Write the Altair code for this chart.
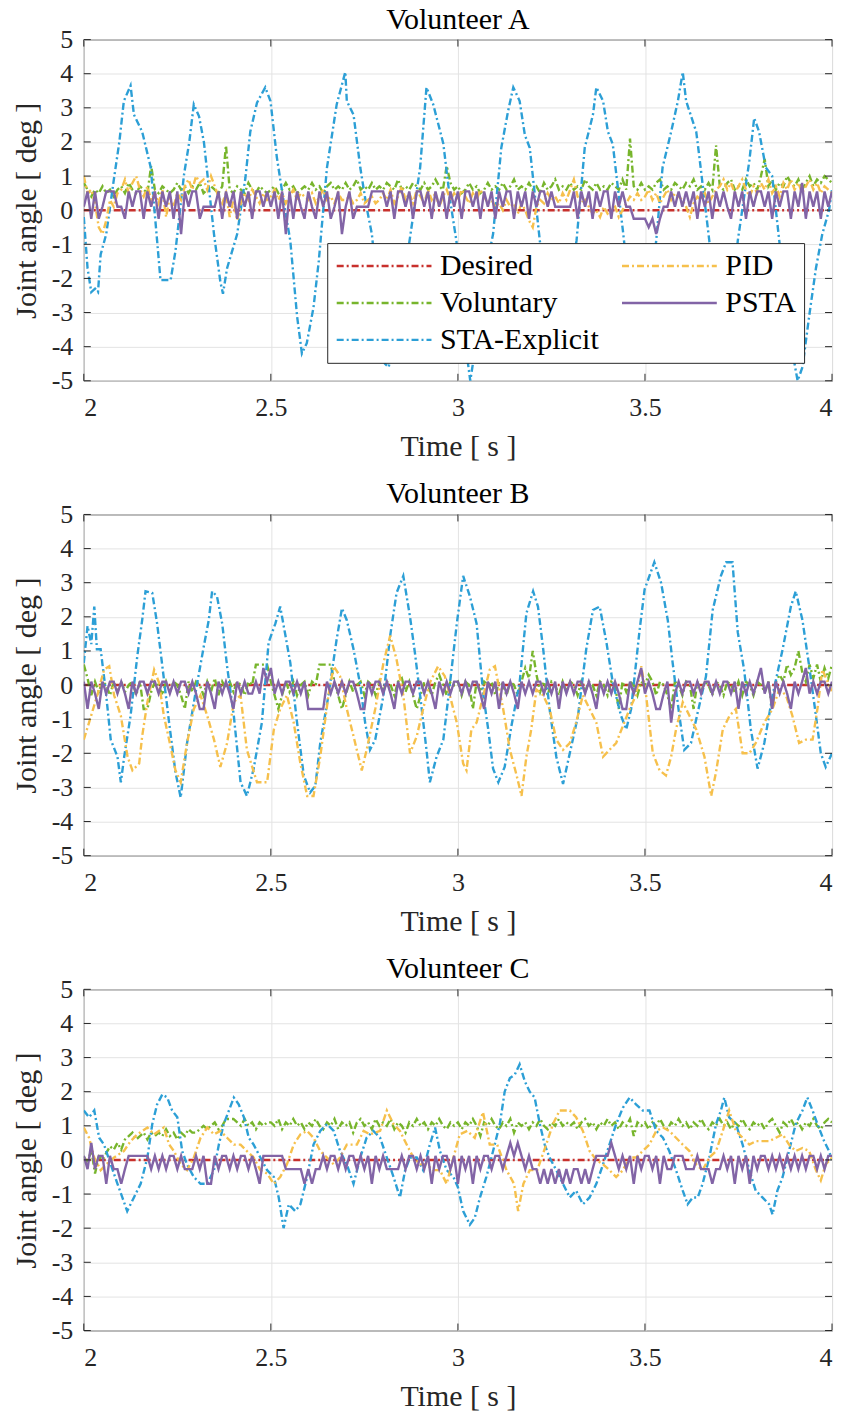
import altair as alt
import pandas as pd

FONT = "Liberation Serif"
W, H = 750, 342

# ---------------- axes / legend vocab ----------------
X_TICKS = [2, 2.5, 3, 3.5, 4]
Y_TICKS = [-5, -4, -3, -2, -1, 0, 1, 2, 3, 4, 5]
LEGEND_ORDER = ["Desired", "Voluntary", "STA-Explicit", "PID", "PSTA"]
COLORS = ["#C8302C", "#77B52C", "#2C9FD6", "#F6C04C", "#8264A6"]
DASHES = [[7, 3, 2, 3], [7, 3, 2, 3], [7, 3, 2, 3], [7, 3, 2, 3], [1, 0]]
DRAW_ORDER = ["Desired", "Voluntary", "STA-Explicit", "PID", "PSTA"]

# sample times of the uniformly read series (0.01 s)
T_GRID = [round(2.0 + 0.01 * i, 2) for i in range(201)]

# ---------------- Desired ----------------
desired_t = [2.0, 4.0]
desired_v = [0.0, 0.0]

# ---------------- Volunteer A ----------------
a_sta_t = [2.000, 2.010, 2.020, 2.030, 2.038, 2.045, 2.060, 2.081, 2.095, 2.107,
           2.125, 2.134, 2.156, 2.179, 2.196, 2.205, 2.232, 2.245, 2.268, 2.282,
           2.294, 2.308, 2.321, 2.348, 2.365, 2.372, 2.383, 2.410, 2.432, 2.445,
           2.463, 2.485, 2.499, 2.516, 2.534, 2.552, 2.570, 2.583, 2.596, 2.614,
           2.628, 2.650, 2.676, 2.699, 2.703, 2.721, 2.739, 2.756, 2.770, 2.788,
           2.805, 2.815, 2.835, 2.868, 2.899, 2.916, 2.934, 2.961, 2.979, 2.996,
           3.015, 3.033, 3.050, 3.070, 3.094, 3.116, 3.134, 3.148, 3.165, 3.179,
           3.192, 3.219, 3.240, 3.262, 3.290, 3.317, 3.339, 3.361, 3.370, 3.388,
           3.401, 3.414, 3.441, 3.465, 3.490, 3.512, 3.530, 3.547, 3.570, 3.588,
           3.601, 3.610, 3.637, 3.645, 3.672, 3.695, 3.715, 3.735, 3.748, 3.779,
           3.792, 3.805, 3.823, 3.840, 3.859, 3.868, 3.885, 3.908, 3.921, 3.939,
           3.957, 3.974, 3.992, 4.000]
a_sta_v = [-0.2, -1.7, -2.4, -2.3, -2.4, -1.3, -0.7, 0.95, 2.0, 3.2,
           3.65, 2.8, 2.3, 1.25, -0.9, -2.05, -2.05, -1.2, 1.05, 2.0,
           3.1, 2.75, 2.0, -0.7, -2.1, -2.45, -1.7, -0.7, 0.95, 2.3,
           3.15, 3.6, 3.2, 1.55, 0.27, -0.9, -3.1, -4.2, -3.9, -2.85,
           -1.5, 1.25, 3.1, 4.05, 3.2, 2.8, 1.25, 0.08, -0.7, -2.65,
           -4.5, -4.6, -3.5, -1.1, 1.25, 3.6, 3.1, 1.95, 0.3, -0.9,
           -3.5, -5.0, -3.8, -2.0, -0.7, 1.83, 2.9, 3.6, 3.2, 2.2,
           1.83, -0.9, -2.8, -3.8, -2.5, -0.9, 1.83, 2.8, 3.6, 3.2,
           2.3, 1.93, -0.6, -3.0, -3.8, -2.5, -0.9, 1.25, 2.3, 3.2,
           4.05, 3.2, 2.3, 1.6, -0.9, -3.0, -3.7, -2.5, -0.9, 1.45,
           2.7, 2.3, 1.25, 1.0, -0.9, -1.7, -3.6, -5.0, -4.6, -3.1,
           -1.7, -0.7, 0.0, 0.6]

a_vol = [0.8, 0.6, 0.4, 0.6, 0.5, 0.7, 0.5, 0.6, 0.4, 0.6,
         0.7, 0.5, 0.8, 0.6, 0.5, 0.7, 0.6, 0.5, 1.3, 0.6,
         0.5, 0.7, 0.6, 0.5, 0.6, 0.8, 0.6, 0.7, 0.5, 0.7,
         0.6, 0.8, 0.5, 0.6, 0.7, 0.6, 0.5, 0.7, 1.9, 0.6,
         0.5, 0.7, 0.6, 0.5, 0.8, 0.6, 0.5, 0.7, 0.6, 0.5,
         0.6, 0.7, 0.5, 0.6, 0.8, 0.6, 0.7, 0.5, 0.6, 0.7,
         0.6, 0.8, 0.6, 0.7, 0.5, 0.7, 0.8, 0.6, 0.7, 0.6,
         0.8, 0.6, 0.7, 0.9, 0.6, 0.7, 0.6, 0.8, 0.6, 0.7,
         0.6, 0.8, 0.7, 0.6, 0.9, 0.6, 0.7, 0.6, 0.8, 0.7,
         0.6, 0.8, 0.6, 0.7, 0.9, 0.7, 0.6, 1.3, 0.8, 0.6,
         0.7, 0.5, 0.6, 0.8, 0.6, 0.7, 0.5, 0.6, 0.8, 0.6,
         0.7, 0.6, 0.8, 0.6, 0.7, 0.9, 0.6, 0.7, 0.6, 0.8,
         0.6, 0.7, 0.5, 0.8, 0.6, 0.7, 0.9, 0.6, 0.7, 0.6,
         0.8, 0.6, 0.7, 0.6, 0.9, 0.7, 0.6, 0.8, 0.6, 0.7,
         0.6, 0.8, 0.7, 0.6, 0.9, 0.6, 2.1, 0.7, 0.6, 0.8,
         0.6, 0.7, 0.6, 0.8, 0.9, 0.6, 0.7, 0.6, 0.8, 0.7,
         0.6, 0.8, 0.7, 0.9, 0.6, 0.7, 0.6, 0.8, 0.6, 1.9,
         0.7, 0.6, 0.8, 0.9, 0.6, 0.7, 0.6, 0.9, 0.7, 0.8,
         0.6, 1.0, 1.5, 0.7, 0.9, 0.6, 0.8, 0.7, 1.0, 0.8,
         0.7, 0.9, 0.6, 0.8, 1.0, 0.7, 0.9, 0.8, 1.0, 0.9,
         0.8]

a_pid = [1.0, 0.5, 0.6, 0.2, -0.5, -0.7, -0.3, 0.3, 0.1, 0.5,
         0.6, 0.9, 0.5, 0.8, 1.0, 0.6, 0.4, 0.7, 0.3, 0.5,
         0.2, 0.6, -0.2, 0.4, 0.1, 0.5, 0.3, 0.7, 0.9, 0.6,
         1.0, 0.8, 0.9, 0.6, 1.0, 0.7, 0.4, 0.2, 0.5, -0.2,
         0.3, -0.3, 0.2, 0.5, 0.3, 0.6, 0.4, 0.2, 0.5, 0.3,
         0.4, 0.6, 0.3, 0.5, 0.2, 0.4, 0.6, 0.3, 0.5, 0.4,
         0.3, 0.5, 0.2, 0.4, 0.6, 0.3, 0.4, 0.2, 0.5, 0.3,
         0.3, 0.4, 0.2, 0.3, 0.5, 0.2, 0.3, 0.4, 0.2, 0.3,
         0.5, 0.3, 0.6, 0.2, 0.4, 0.7, 0.3, 0.5, 0.2, 0.6,
         0.4, 0.2, 0.6, 0.3, 0.5, 0.1, 0.4, 0.6, 0.3, 0.5,
         0.3, 0.6, 0.4, 0.2, 0.5, 0.3, 0.6, 0.4, 0.2, 0.3,
         0.1, 0.2, 0.0, 0.3, 0.1, 0.2, -0.1, 0.2, 0.0, -0.3,
         -0.5, 0.1, 0.3, 0.2, 0.5, 0.3, 0.4, 0.2, 0.5, 0.3,
         0.6, 0.9, 0.4, 0.2, 0.3, 0.1, -0.1, 0.0, -0.2, 0.1,
         -0.1, 0.0, 0.1, -0.2, 0.0, 0.2, 0.4, 0.3, 0.5, 0.3,
         0.4, 0.6, 0.3, 0.5, 0.2, 0.4, 0.6, 0.3, 0.5, 0.4,
         0.3, 0.1, -0.2, 0.2, 0.4, 0.3, 0.5, 0.2, 0.4, 0.6,
         0.7, 0.9, 0.6, 0.8, 0.5, 0.7, 0.9, 0.6, 0.4, 0.7,
         0.5, 0.8, 0.6, 0.9, 0.5, 0.7, 0.4, 0.8, 0.6, 0.9,
         0.6, 0.8, 0.5, 0.7, 0.9, 0.6, 0.8, 0.5, 0.7, 0.6,
         0.5]

a_psta = [0.1, 0.55, -0.25, 0.55, -0.25, 0.1, 0.55, 0.55, 0.55, 0.1,
          0.1, -0.25, 0.55, 0.1, 0.55, 0.55, -0.25, 0.55, 0.1, 0.55,
          -0.25, 0.55, 0.1, 0.55, -0.25, 0.55, -0.7, 0.55, 0.1, 0.55,
          0.55, -0.25, 0.1, 0.1, 0.1, 0.1, 0.55, -0.25, 0.55, 0.1,
          0.55, -0.25, 0.55, 0.1, 0.55, -0.25, 0.55, 0.55, 0.1, 0.55,
          0.1, 0.55, -0.25, 0.55, -0.7, 0.55, -0.25, 0.55, 0.1, -0.25,
          0.55, 0.1, -0.25, 0.55, 0.1, 0.55, -0.25, 0.1, 0.55, -0.7,
          0.1, 0.55, -0.25, 0.1, 0.1, 0.1, 0.1, 0.55, 0.55, 0.55,
          0.55, 0.1, 0.55, -0.25, 0.55, 0.55, 0.1, 0.55, -0.25, 0.55,
          0.55, 0.1, 0.55, -0.25, 0.55, 0.1, 0.55, -0.25, 0.55, 0.1,
          0.55, -0.25, 0.55, 0.55, 0.1, 0.55, -0.25, 0.55, 0.1, 0.55,
          -0.25, 0.55, 0.1, 0.55, 0.55, -0.25, 0.55, 0.1, 0.55, -0.25,
          0.55, 0.1, 0.55, 0.55, 0.1, 0.55, 0.1, 0.1, 0.1, 0.1,
          0.1, 0.55, -0.25, 0.55, 0.1, 0.55, -0.25, 0.55, 0.1, 0.55,
          0.55, -0.25, 0.55, 0.1, 0.55, 0.1, 0.1, -0.25, -0.25, -0.25,
          -0.25, -0.5, -0.25, -0.7, -0.25, 0.1, 0.1, 0.55, 0.1, 0.55,
          0.1, 0.55, 0.1, 0.55, -0.25, 0.55, 0.1, 0.55, -0.25, 0.55,
          0.1, 0.55, 0.1, -0.25, 0.55, 0.1, 0.55, -0.25, 0.55, 0.1,
          0.55, 0.55, 0.1, 0.55, -0.25, 0.55, 0.1, 0.55, 0.55, -0.25,
          0.55, 0.1, 0.8, -0.25, 0.55, 0.1, 0.55, -0.25, 0.55, 0.1,
          0.55]

# ---------------- Volunteer B ----------------
b_sta_t = [2.000, 2.010, 2.020, 2.028, 2.035, 2.045, 2.059, 2.072, 2.090, 2.099,
           2.108, 2.125, 2.143, 2.156, 2.165, 2.183, 2.196, 2.210, 2.228, 2.245,
           2.259, 2.276, 2.299, 2.321, 2.334, 2.343, 2.356, 2.370, 2.383, 2.401,
           2.419, 2.436, 2.454, 2.476, 2.494, 2.512, 2.525, 2.539, 2.552, 2.570,
           2.588, 2.605, 2.619, 2.632, 2.654, 2.676, 2.690, 2.703, 2.721, 2.739,
           2.752, 2.765, 2.779, 2.801, 2.819, 2.836, 2.854, 2.872, 2.885, 2.899,
           2.916, 2.925, 2.943, 2.961, 2.979, 2.997, 3.014, 3.032, 3.050, 3.068,
           3.081, 3.094, 3.108, 3.125, 3.143, 3.165, 3.183, 3.201, 3.214, 3.228,
           3.245, 3.263, 3.281, 3.299, 3.321, 3.343, 3.361, 3.379, 3.397, 3.414,
           3.436, 3.450, 3.463, 3.485, 3.499, 3.512, 3.525, 3.543, 3.561, 3.574,
           3.592, 3.605, 3.623, 3.641, 3.663, 3.681, 3.703, 3.717, 3.734, 3.748,
           3.765, 3.783, 3.801, 3.819, 3.841, 3.868, 3.890, 3.903, 3.921, 3.939,
           3.957, 3.970, 3.983, 4.000]
b_sta_v = [0.65, 1.73, 1.2, 2.3, 1.05, 1.05, -0.2, -1.6, -2.1, -2.85,
           -2.1, -0.9, 0.85, 1.9, 2.75, 2.7, 1.8, 0.55, -1.1, -2.55,
           -3.3, -1.7, -0.2, 1.15, 1.9, 2.75, 2.6, 1.8, 0.55, -0.9,
           -2.85, -3.25, -2.45, -1.1, 1.25, 1.8, 2.3, 1.45, 0.65, -1.1,
           -2.65, -3.15, -2.95, -1.7, -0.3, 1.35, 2.25, 1.9, 1.05, 0.0,
           -1.1, -1.9, -1.6, -0.3, 1.45, 2.7, 3.2, 2.0, 0.95, -0.3,
           -1.9, -2.85, -2.1, -1.6, 0.07, 1.8, 3.2, 2.6, 1.8, -0.3,
           -1.3, -2.45, -2.85, -2.4, -1.2, 0.07, 2.1, 2.75, 2.3, 1.05,
           -0.7, -2.1, -2.9, -2.0, -0.9, 1.05, 2.2, 2.3, 1.25, 0.07,
           -0.9, -1.3, -0.7, 1.55, 2.8, 3.2, 3.6, 3.0, 1.9, 0.65,
           -0.9, -1.9, -1.7, -0.8, 0.25, 2.2, 3.2, 3.6, 3.6, 1.55,
           0.45, -1.3, -2.45, -1.7, -0.3, 1.05, 2.3, 2.75, 1.9, 0.55,
           -0.9, -2.0, -2.4, -2.0]

b_pid_t = [2.000, 2.014, 2.036, 2.054, 2.068, 2.081, 2.099, 2.117, 2.130, 2.148,
           2.156, 2.170, 2.188, 2.201, 2.214, 2.228, 2.245, 2.259, 2.276, 2.294,
           2.312, 2.330, 2.348, 2.365, 2.383, 2.401, 2.419, 2.436, 2.463, 2.490,
           2.508, 2.525, 2.543, 2.561, 2.579, 2.597, 2.614, 2.632, 2.654, 2.668,
           2.685, 2.703, 2.721, 2.743, 2.756, 2.779, 2.801, 2.819, 2.836, 2.854,
           2.872, 2.890, 2.907, 2.925, 2.947, 2.965, 2.983, 2.997, 3.014, 3.023,
           3.036, 3.050, 3.068, 3.085, 3.099, 3.121, 3.139, 3.157, 3.170, 3.183,
           3.196, 3.210, 3.228, 3.245, 3.263, 3.281, 3.299, 3.316, 3.334, 3.352,
           3.370, 3.388, 3.405, 3.423, 3.441, 3.459, 3.476, 3.490, 3.503, 3.521,
           3.539, 3.556, 3.570, 3.583, 3.601, 3.619, 3.637, 3.659, 3.677, 3.690,
           3.708, 3.726, 3.743, 3.761, 3.779, 3.796, 3.819, 3.841, 3.859, 3.877,
           3.894, 3.912, 3.930, 3.948, 3.961, 3.974, 4.000]
b_pid_v = [-1.6, -1.1, -0.3, 0.45, 0.55, -0.3, -0.9, -2.1, -2.5, -2.3,
           -1.5, -0.5, 0.45, 0.07, -0.9, -1.6, -2.5, -2.85, -1.7, -0.7,
           -0.3, -0.9, -1.6, -2.4, -1.7, -0.5, -0.3, -1.9, -2.85, -2.85,
           -1.3, -0.7, -0.3, -1.1, -2.3, -3.25, -3.25, -2.1, -0.3, 0.55,
           0.26, -0.7, -1.5, -2.5, -1.9, -0.7, 0.65, 1.45, 0.75, -0.3,
           -2.0, -1.5, -0.7, 0.07, 0.55, 0.26, -0.5, -1.1, -2.3, -2.5,
           -1.3, -1.1, -0.3, 0.45, 0.55, -0.7, -1.9, -2.65, -3.25, -2.1,
           -1.3, -0.13, -0.3, -0.7, -1.6, -1.9, -1.7, -1.1, -0.3, -0.7,
           -1.1, -2.1, -1.9, -1.7, -1.2, -0.7, -0.3, 0.55, -0.3, -2.0,
           -2.5, -2.65, -2.1, -1.3, -0.5, -0.9, -1.3, -2.1, -3.25, -2.55,
           -1.3, -0.9, -0.7, -2.0, -2.0, -1.7, -1.1, -0.7, -0.13, -0.3,
           -0.9, -1.7, -1.6, -1.6, -0.7, 0.45, -0.2]

b_vol = [0.6, 0.2, -0.3, 0.1, -0.2, 0.1, 0.0, -0.3, 0.1, -0.2,
         0.1, -0.2, 0.0, 0.1, -0.3, 0.1, -0.7, -0.7, -0.2, 0.1,
         0.0, -0.3, 0.1, -0.2, 0.1, 0.0, -0.3, -0.7, 0.1, -0.2,
         0.1, 0.0, -0.3, 0.1, -0.2, 0.2, -0.3, 0.1, -0.1, 0.1,
         -0.2, 0.1, 0.0, -0.3, 0.1, 0.0, 0.6, 0.6, 0.6, 0.6,
         0.1, -0.3, -0.7, -0.3, 0.1, -0.2, 0.1, -0.3, 0.0, 0.1,
         -0.3, 0.1, 0.0, 0.6, 0.6, 0.6, 0.6, 0.1, -0.3, -0.7,
         -0.3, 0.1, -0.2, 0.0, 0.1, -0.3, 0.1, 0.0, -0.3, 0.1,
         -0.2, 0.1, 0.0, -0.3, 0.1, 0.2, -0.2, 0.1, -0.3, -0.7,
         -0.3, 0.1, 0.0, -0.3, 0.1, 0.3, 0.0, -0.3, 0.1, 0.0,
         0.1, -0.3, 0.1, 0.0, -0.7, 0.1, -0.2, 0.1, 0.0, 0.1,
         -0.3, 0.1, 0.0, -0.3, 0.1, 0.0, -0.3, 0.1, 0.5, 0.2,
         1.0, 0.3, -0.2, 0.1, -0.3, 0.1, 0.0, -0.3, 0.1, -0.2,
         0.1, 0.0, -0.3, 0.1, -0.2, 0.1, 0.0, -0.3, 0.1, 0.0,
         -0.3, 0.1, 0.0, -0.7, 0.1, -0.2, 0.1, 0.0, -0.3, 0.1,
         0.0, 0.3, 0.1, -0.3, 0.1, 0.0, -0.3, -0.7, 0.1, 0.0,
         -0.3, 0.1, 0.0, -0.7, 0.1, -0.2, 0.1, 0.0, -0.3, 0.1,
         0.0, -0.3, 0.1, 0.0, -0.2, 0.1, -0.3, 0.1, 0.0, -0.3,
         0.1, 0.0, -0.2, 0.1, -0.7, 0.1, 0.3, 0.1, 0.6, 0.3,
         0.5, 1.0, 0.4, 0.1, 0.6, 0.2, 0.6, 0.1, 0.5, 0.2,
         0.6]

b_psta = [0.1, -0.7, 0.1, -0.25, -0.7, 0.1, -0.25, 0.1, 0.1, -0.25,
          0.1, -0.25, -0.7, 0.1, -0.25, 0.1, 0.1, -0.25, 0.1, 0.1,
          -0.25, 0.1, 0.1, -0.25, 0.1, -0.25, 0.1, 0.1, -0.25, 0.1,
          -0.25, -0.7, -0.7, 0.1, -0.25, -0.7, 0.1, -0.25, 0.1, -0.25,
          -0.7, 0.1, -0.25, 0.1, -0.25, -0.25, 0.1, -0.25, 0.5, 0.1,
          0.5, -0.25, 0.1, -0.25, 0.1, 0.1, -0.25, 0.1, -0.25, 0.1,
          -0.7, -0.7, -0.7, -0.7, -0.7, 0.1, -0.25, 0.1, -0.25, 0.1,
          -0.25, 0.1, 0.1, -0.25, -0.7, -0.7, 0.1, -0.25, 0.1, 0.1,
          -0.25, 0.1, -0.25, -0.7, 0.1, -0.25, 0.1, 0.1, -0.25, 0.1,
          0.1, -0.25, 0.1, -0.25, -0.7, 0.1, -0.25, 0.1, -0.25, 0.1,
          0.1, -0.25, 0.1, -0.25, 0.1, 0.1, -0.25, -0.7, 0.1, -0.25,
          0.1, -0.7, 0.1, -0.25, 0.1, -0.25, -0.7, 0.1, -0.25, 0.1,
          -0.25, 0.1, 0.1, -0.25, 0.1, -0.25, 0.1, -0.7, 0.1, -0.25,
          0.1, -0.25, 0.1, 0.1, -0.25, 0.1, -0.25, -0.7, 0.1, -0.25,
          0.1, -0.25, 0.1, -0.25, -0.7, -0.7, 0.1, -0.25, 0.1, 0.5,
          -0.25, 0.1, -0.25, -0.7, -0.7, -0.25, 0.1, -1.1, -0.25, 0.1,
          -0.25, 0.1, 0.1, -0.25, 0.1, -0.25, 0.1, 0.1, -0.25, 0.1,
          -0.25, 0.1, 0.1, -0.25, 0.1, -0.7, 0.1, -0.25, 0.1, -0.25,
          0.1, 0.5, -0.25, 0.1, -0.7, 0.1, -0.25, 0.1, -0.25, -0.7,
          0.1, -0.25, 0.1, 0.5, -0.25, 0.1, -0.25, 0.1, 0.1, -0.25,
          0.1]

# ---------------- Volunteer C ----------------
c_sta_t = [2.000, 2.014, 2.028, 2.041, 2.054, 2.072, 2.090, 2.103, 2.116, 2.134,
           2.152, 2.170, 2.183, 2.196, 2.210, 2.223, 2.236, 2.250, 2.263, 2.276,
           2.294, 2.312, 2.330, 2.348, 2.361, 2.374, 2.388, 2.401, 2.414, 2.428,
           2.441, 2.454, 2.472, 2.490, 2.508, 2.521, 2.534, 2.548, 2.565, 2.579,
           2.597, 2.614, 2.632, 2.650, 2.668, 2.685, 2.703, 2.721, 2.739, 2.756,
           2.774, 2.792, 2.810, 2.828, 2.845, 2.859, 2.872, 2.890, 2.907, 2.925,
           2.939, 2.952, 2.970, 2.988, 3.000, 3.014, 3.032, 3.045, 3.059, 3.076,
           3.094, 3.112, 3.125, 3.139, 3.152, 3.165, 3.179, 3.192, 3.205, 3.219,
           3.232, 3.245, 3.263, 3.281, 3.299, 3.316, 3.334, 3.352, 3.370, 3.388,
           3.405, 3.423, 3.441, 3.459, 3.476, 3.494, 3.512, 3.530, 3.548, 3.565,
           3.583, 3.601, 3.614, 3.628, 3.641, 3.654, 3.672, 3.690, 3.703, 3.712,
           3.725, 3.743, 3.761, 3.779, 3.796, 3.814, 3.832, 3.841, 3.854, 3.868,
           3.885, 3.903, 3.921, 3.934, 3.948, 3.961, 3.979, 3.992, 4.000]
c_sta_v = [1.45, 1.25, 1.45, 0.65, 0.45, -0.13, -0.7, -1.1, -1.5, -1.1,
           -0.7, 0.07, 1.05, 1.63, 1.92, 1.83, 1.45, 1.25, 0.26, -0.13,
           -0.5, -0.7, -0.7, -0.3, 0.45, 1.05, 1.45, 1.83, 1.63, 1.25,
           0.65, 0.45, 0.07, -0.3, -0.5, -1.1, -2.0, -1.3, -1.5, -1.3,
           -0.5, 0.45, 0.85, 1.05, 0.85, 0.26, -0.13, -0.7, 0.07, 0.65,
           0.85, 0.65, 0.07, -0.5, -1.1, -0.3, 0.07, 0.07, -0.3, 0.45,
           0.95, 0.26, -0.3, -0.5, -0.8, -1.5, -1.9, -1.7, -1.1, -0.5,
           0.26, 1.05, 2.0, 2.4, 2.5, 2.8, 2.3, 2.0, 1.83, 1.05,
           0.45, 0.07, -0.3, -0.7, -1.1, -0.9, -1.3, -1.1, -0.7, -0.13,
           0.45, 1.05, 1.53, 1.83, 1.63, 1.45, 1.45, 0.85, 0.65, 0.26,
           -0.3, -0.9, -1.3, -1.1, -1.1, -0.7, 0.07, 1.05, 1.45, 1.83,
           1.25, 1.05, 0.45, -0.3, -0.9, -1.1, -1.3, -1.6, -0.9, -0.5,
           0.26, 1.05, 1.45, 1.83, 1.45, 1.05, 0.55, 0.26, 0.0]

c_pid_t = [2.000, 2.014, 2.028, 2.045, 2.063, 2.081, 2.107, 2.125, 2.143, 2.170,
           2.188, 2.214, 2.228, 2.241, 2.259, 2.276, 2.294, 2.312, 2.330, 2.348,
           2.365, 2.383, 2.401, 2.419, 2.436, 2.454, 2.472, 2.490, 2.508, 2.525,
           2.543, 2.561, 2.579, 2.597, 2.614, 2.632, 2.650, 2.668, 2.685, 2.703,
           2.730, 2.748, 2.765, 2.792, 2.810, 2.828, 2.845, 2.863, 2.881, 2.899,
           2.916, 2.934, 2.952, 2.970, 2.988, 3.005, 3.025, 3.045, 3.067, 3.085,
           3.105, 3.130, 3.150, 3.161, 3.175, 3.192, 3.212, 3.236, 3.254, 3.272,
           3.299, 3.316, 3.334, 3.352, 3.370, 3.388, 3.405, 3.423, 3.441, 3.459,
           3.476, 3.494, 3.512, 3.530, 3.548, 3.565, 3.583, 3.601, 3.619, 3.637,
           3.654, 3.672, 3.690, 3.708, 3.725, 3.743, 3.761, 3.779, 3.796, 3.814,
           3.832, 3.850, 3.868, 3.885, 3.903, 3.921, 3.939, 3.957, 3.970, 3.983,
           4.000]
c_pid_v = [0.95, 0.65, 0.07, -0.3, -0.1, 0.07, 0.26, 0.55, 0.75, 0.95,
           0.75, 0.95, 0.45, 0.26, -0.13, -0.3, 0.07, 0.65, 0.95, 0.75,
           0.85, 0.65, 0.45, 0.45, 0.26, 0.07, -0.3, -0.4, -0.7, -0.5,
           -0.13, 0.45, 0.75, 0.85, 0.65, 0.26, 0.07, -0.13, 0.07, 0.45,
           0.45, 0.85, 0.75, 0.85, 1.45, 1.05, 0.85, 0.45, 0.07, -0.13,
           -0.13, -0.3, -0.3, -0.7, 0.07, 0.75, 0.85, 0.65, 1.4, 0.45,
           0.45, -0.3, -0.7, -1.5, -0.7, -0.3, -0.3, 0.45, 1.05, 1.45,
           1.45, 1.25, 0.85, 0.26, 0.0, -0.13, -0.3, -0.5, -0.3, 0.07,
           0.07, 0.26, 0.45, 0.85, 0.95, 0.85, 0.65, 0.45, 0.26, -0.13,
           -0.3, 0.07, 0.26, 0.85, 1.45, 0.85, 0.65, 0.45, 0.55, 0.55,
           0.55, 0.65, 0.75, 0.45, 0.26, 0.35, 0.26, -0.3, -0.6, -0.13,
           0.07]

c_vol = [0.1, -0.1, 0.3, -0.4, 0.1, 0.0, 0.2, 0.4, 0.3, 0.5,
         0.3, 0.6, 0.7, 0.8, 0.6, 0.7, 0.8, 0.6, 0.8, 0.7,
         0.8, 0.7, 0.9, 0.7, 0.8, 0.6, 0.8, 0.7, 0.9, 0.8,
         0.8, 0.9, 1.0, 0.9, 1.0, 1.1, 0.9, 1.0, 1.2, 1.2,
         1.2, 1.1, 1.0, 1.2, 1.0, 1.1, 0.9, 1.1, 1.0, 1.1,
         1.1, 1.0, 1.2, 0.9, 1.1, 1.0, 1.2, 1.0, 1.1, 0.9,
         1.1, 1.0, 1.2, 1.0, 0.9, 1.1, 1.0, 1.2, 0.9, 1.1,
         1.0, 1.1, 0.8, 1.1, 1.2, 1.0, 1.1, 0.9, 1.2, 1.0,
         1.1, 1.0, 1.2, 0.9, 1.1, 1.0, 0.8, 1.1, 1.0, 1.2,
         1.0, 1.1, 0.9, 1.1, 1.0, 1.2, 1.0, 0.9, 1.1, 1.0,
         1.1, 0.9, 1.1, 1.0, 1.2, 1.0, 0.7, 1.1, 1.0, 1.2,
         1.0, 0.9, 1.1, 1.0, 1.2, 0.8, 1.1, 1.0, 1.1, 0.9,
         1.1, 1.0, 1.2, 1.0, 0.9, 1.1, 1.0, 1.2, 1.0, 1.1,
         1.0, 1.1, 0.9, 1.1, 1.2, 1.0, 1.1, 0.9, 1.1, 1.0,
         1.2, 1.0, 1.1, 0.9, 1.1, 1.0, 1.2, 0.7, 1.1, 1.0,
         1.1, 0.9, 1.1, 1.0, 1.2, 1.0, 0.9, 1.1, 1.0, 1.2,
         1.0, 1.1, 0.9, 1.1, 1.0, 1.2, 1.0, 0.9, 1.1, 1.0,
         1.2, 1.0, 1.1, 0.9, 1.1, 1.0, 1.2, 1.0, 0.9, 1.1,
         1.0, 1.1, 0.9, 1.1, 1.2, 1.0, 0.8, 1.1, 1.0, 1.2,
         1.0, 1.1, 0.9, 1.1, 1.0, 1.2, 1.0, 0.9, 1.1, 1.2,
         1.1]

c_psta = [0.12, -0.27, 0.5, -0.27, 0.12, 0.12, -0.7, 0.12, -0.27, -0.27,
          -0.7, -0.27, 0.12, 0.12, 0.12, 0.12, 0.12, 0.12, -0.27, 0.12,
          -0.27, 0.12, -0.27, 0.12, 0.12, -0.27, 0.12, -0.27, -0.27, -0.27,
          0.12, -0.27, 0.12, -0.7, -0.7, 0.12, -0.27, 0.12, 0.12, -0.27,
          0.12, -0.27, 0.12, 0.12, -0.27, 0.12, -0.27, -0.7, 0.12, 0.12,
          0.12, 0.12, 0.12, 0.12, -0.27, -0.27, -0.27, -0.27, -0.27, -0.7,
          -0.27, -0.7, -0.27, -0.27, 0.12, -0.27, 0.12, 0.12, -0.27, 0.12,
          -0.27, 0.12, 0.12, -0.27, 0.12, -0.27, 0.12, -0.7, 0.12, -0.27,
          0.12, -0.27, -0.27, -0.27, -0.27, 0.12, -0.27, 0.12, 0.12, -0.27,
          0.12, -0.27, 0.12, -0.7, 0.12, -0.27, 0.12, 0.12, -0.27, 0.12,
          -0.7, 0.12, -0.27, 0.12, -0.7, 0.12, -0.27, 0.12, 0.12, -0.27,
          0.12, 0.12, -0.27, 0.12, 0.5, 0.12, 0.5, 0.12, -0.27, 0.12,
          -0.27, -0.27, -0.7, -0.27, -0.7, -0.27, -0.7, -0.27, -0.7, -0.27,
          -0.7, -0.27, -0.27, -0.7, -0.27, -0.7, -0.27, 0.12, 0.12, 0.12,
          0.12, 0.5, 0.12, -0.27, 0.12, -0.27, 0.12, -0.7, 0.12, -0.27,
          0.12, 0.12, -0.27, 0.12, -0.7, 0.12, -0.27, -0.27, 0.12, 0.12,
          0.12, -0.27, -0.27, -0.27, 0.12, -0.27, -0.27, -0.27, -0.7, -0.27,
          -0.27, 0.12, -0.27, 0.12, -0.7, 0.12, -0.27, 0.12, -0.7, 0.12,
          -0.27, 0.12, 0.12, -0.27, 0.12, -0.27, 0.12, -0.27, 0.12, -0.27,
          0.12, -0.27, 0.12, -0.27, 0.12, 0.12, -0.27, 0.12, -0.27, 0.12,
          0.12]


# ---------------- assemble ----------------
def rows(panel, series, ts, vs):
    assert len(ts) == len(vs), (panel, series, len(ts), len(vs))
    return [{"panel": panel, "series": series, "t": t, "v": v} for t, v in zip(ts, vs)]


records = []
for p, sta_t, sta_v, pid_t, pid_v, vol, psta in [
    ("A", a_sta_t, a_sta_v, T_GRID, a_pid, a_vol, a_psta),
    ("B", b_sta_t, b_sta_v, b_pid_t, b_pid_v, b_vol, b_psta),
    ("C", c_sta_t, c_sta_v, c_pid_t, c_pid_v, c_vol, c_psta),
]:
    records += rows(p, "Desired", desired_t, desired_v)
    records += rows(p, "Voluntary", T_GRID, vol)
    records += rows(p, "STA-Explicit", sta_t, sta_v)
    records += rows(p, "PID", pid_t, pid_v)
    records += rows(p, "PSTA", T_GRID, psta)
df = pd.DataFrame(records)

ytick_df = pd.DataFrame({"v": Y_TICKS})
xtick_df = pd.DataFrame({"t": X_TICKS})

XS = alt.Scale(domain=[2, 4], nice=False, zero=False)
YS = alt.Scale(domain=[-5, 5], nice=False, zero=False)
CS = alt.Scale(domain=LEGEND_ORDER, range=COLORS)
DS = alt.Scale(domain=LEGEND_ORDER, range=DASHES)
TEXT = "#262626"

x_axis = alt.Axis(values=X_TICKS, labelExpr="'' + datum.value", grid=True,
                  gridColor="#E3E3E3", gridWidth=1, ticks=False, tickSize=0,
                  domain=False, labelFont=FONT, labelFontSize=26, labelColor=TEXT,
                  labelPadding=14, title="Time [ s ]", titleFont=FONT,
                  titleFontSize=30, titleFontWeight="normal", titleColor=TEXT,
                  titleBaseline="alphabetic", titleY=75)
y_axis = alt.Axis(values=Y_TICKS, labelExpr="'' + datum.value", grid=True,
                  gridColor="#E3E3E3", gridWidth=1, ticks=False, tickSize=0,
                  domain=False, labelFont=FONT, labelFontSize=26, labelColor=TEXT,
                  labelPadding=11, title="Joint angle [ deg ]", titleFont=FONT,
                  titleFontSize=30, titleFontWeight="normal", titleColor=TEXT,
                  titleBaseline="alphabetic", titleX=-48)

LEGEND = alt.Legend(title=None, orient="none", legendX=244, legendY=204,
                    direction="vertical", columns=2, symbolType="stroke",
                    symbolSize=9025, symbolStrokeWidth=2.4, clipHeight=30,
                    labelFont=FONT, labelFontSize=30, labelColor="#000000",
                    labelLimit=400, labelOffset=7, columnPadding=21, rowPadding=7,
                    padding=8, fillColor="white", strokeColor=TEXT, cornerRadius=0)

WIDTHS = {"Desired": 2.4, "Voluntary": 2.4, "STA-Explicit": 2.4, "PID": 2.4, "PSTA": 2.4}


def panel(letter, show_legend):
    d = df[df.panel == letter]
    leg = LEGEND if show_legend else None
    xe = alt.X("t:Q", scale=XS, axis=x_axis, title="Time [ s ]")
    ye = alt.Y("v:Q", scale=YS, axis=y_axis, title="Joint angle [ deg ]")
    layers = []
    for s in DRAW_ORDER:
        layers.append(
            alt.Chart(d[d.series == s]).mark_line(strokeWidth=WIDTHS[s], clip=True).encode(
                x=xe, y=ye,
                color=alt.Color("series:N", scale=CS, legend=leg),
                strokeDash=alt.StrokeDash("series:N", scale=DS, legend=leg),
            )
        )
    tick_col = TEXT
    left = alt.Chart(ytick_df).mark_rule(color=tick_col, strokeWidth=1).encode(
        y=ye, x=alt.value(0), x2=alt.value(7))
    right = alt.Chart(ytick_df).mark_rule(color=tick_col, strokeWidth=1).encode(
        y=ye, x=alt.value(W - 7), x2=alt.value(W))
    bottom = alt.Chart(xtick_df).mark_rule(color=tick_col, strokeWidth=1).encode(
        x=xe, y=alt.value(H - 7), y2=alt.value(H))
    top = alt.Chart(xtick_df).mark_rule(color=tick_col, strokeWidth=1).encode(
        x=xe, y=alt.value(0), y2=alt.value(7))
    layers += [left, right, bottom, top]
    return alt.layer(*layers).properties(
        width=W, height=H,
        title=alt.TitleParams(f"Volunteer {letter}", font=FONT, fontSize=30,
                              fontWeight="normal", color="#000000", offset=7,
                              baseline="alphabetic", anchor="middle", frame="group",
                              dy=39),
    )


chart = alt.vconcat(
    panel("A", True), panel("B", False), panel("C", False),
    spacing=16,
    padding={"left": 11, "top": 2, "right": 10, "bottom": 4},
).resolve_scale(color="independent", strokeDash="independent").configure(
    font=FONT,
    style={"guide-label": {"font": FONT}, "guide-title": {"font": FONT}},
).configure_view(stroke=TEXT, strokeWidth=1).configure_axis(
    labelFont=FONT, titleFont=FONT
).configure_legend(labelFont=FONT).configure_title(font=FONT)

chart.save("out.html", embed_options={"renderer": "svg", "actions": False})
